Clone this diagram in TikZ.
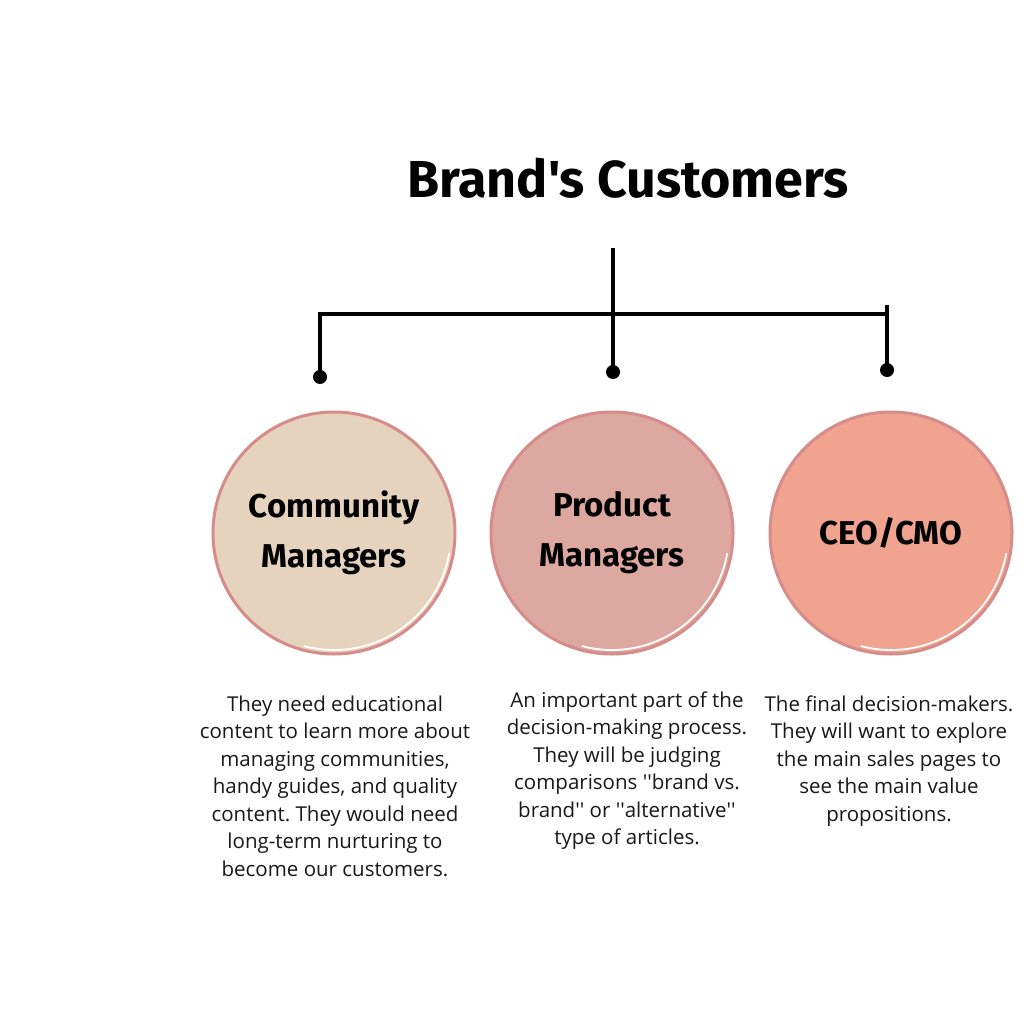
\documentclass[tikz,border=0pt]{standalone}
\usepackage{fontspec}
\setmainfont{Open Sans}
\newfontfamily\titlefont{Fira Sans}
\newfontfamily\qfont{Open Sans}[Ligatures=TeXOff]
\definecolor{cbeige}{RGB}{230,211,190}
\definecolor{crose}{RGB}{221,168,160}
\definecolor{csalmon}{RGB}{240,163,143}
\definecolor{crim}{RGB}{214,140,138}
\definecolor{ctext}{RGB}{25,25,25}
\newcommand{\sq}{{\qfont''}}
\frenchspacing
\begin{document}
\begin{tikzpicture}[x=1pt,y=-1pt,
  conn/.style={line width=4pt,black},
  dotnode/.style={circle,fill=black,inner sep=0pt,minimum size=14pt},
  bubble/.style={circle,draw=crim,line width=3pt,minimum size=242pt,inner sep=0pt,
     font=\titlefont\fontsize{33}{50}\selectfont\bfseries,align=center,text=black},
  desc/.style={font=\fontsize{20.5}{27.5}\selectfont,align=center,text=ctext,anchor=north}]
\useasboundingbox (0,0) rectangle (1024,1024);
\fill[white] (0,0) rectangle (1024,1024);
\node[font=\titlefont\fontsize{52}{60}\selectfont\bfseries] (title) at (628,178) {Brand's Customers};
\coordinate (top) at (613,248);
\coordinate (jm) at (613,314);
\coordinate (jl) at (320,314);
\coordinate (jr) at (887,314);
\coordinate (jrt) at (887,305);
\node[dotnode] (dl) at (320,377) {};
\node[dotnode] (dm) at (613,372) {};
\node[dotnode] (dr) at (887,370) {};
\draw[conn] (top) -- (dm.center);
\draw[conn] (dl.center) -- (jl) -- (jr);
\draw[conn] (jrt) -- (dr.center);
\node[bubble,fill=cbeige] (cm) at (334,533) {Community\\Managers};
\node[bubble,fill=crose] (pm) at (612,533) {Product\\Managers};
\node[bubble,fill=csalmon] (ceo) at (891,533) {CEO/CMO};
\foreach \n in {cm,pm,ceo}{
  \draw[white,line width=1.8pt] ([shift={(10:117)}]\n.center) arc[start angle=10,end angle=105,radius=117];
}
\node[desc] (t1) at (335,692) {They need educational\\content to learn more about\\managing communities,\\handy guides, and quality\\content. They would need\\long-term nurturing to\\become our customers.};
\node[desc] (t2) at (627,688) {An important part of the\\decision-making process.\\They will be judging\\comparisons \sq brand vs.\\brand\sq{} or \sq alternative\sq\\type of articles.};
\node[desc] (t3) at (889,692) {The final decision-makers.\\They will want to explore\\the main sales pages to\\see the main value\\propositions.};
\end{tikzpicture}
\end{document}
